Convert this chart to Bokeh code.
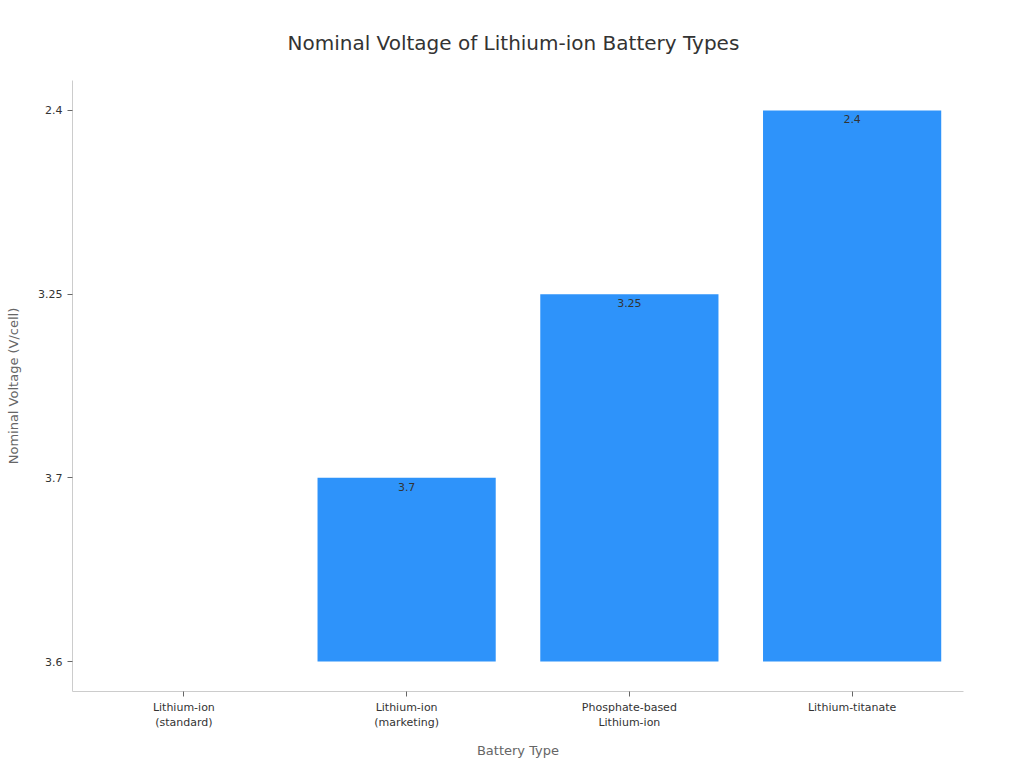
from bokeh.plotting import figure
from bokeh.models import ColumnDataSource, Range1d, FactorRange, FixedTicker
from bokeh.embed import file_html
from bokeh.resources import INLINE
from bokeh.core.properties import value

categories = ["Lithium-ion\n(standard)", "Lithium-ion\n(marketing)", "Phosphate-based\nLithium-ion", "Lithium-titanate"]
voltages = ["3.6", "3.7", "3.25", "2.4"]
y_levels = ["3.6", "3.7", "3.25", "2.4"]  # categorical y axis order, bottom to top

FONT = "DejaVu Sans"

tops = [y_levels.index(v) for v in voltages]
bottoms = [y_levels.index(y_levels[0])] * len(voltages)

src = ColumnDataSource(dict(x=categories, top=tops, bottom=bottoms, label=voltages))
lab_idx = [i for i in range(len(voltages)) if tops[i] != bottoms[i]]
lab_src = ColumnDataSource(dict(x=[categories[i] for i in lab_idx],
                                y=[tops[i] for i in lab_idx],
                                label=[voltages[i] for i in lab_idx]))

p = figure(x_range=FactorRange(*categories, range_padding=0),
           y_range=Range1d(-0.163, len(y_levels) - 1 + 0.163),
           width=1016, height=762, output_backend="svg", toolbar_location=None,
           title="Nominal Voltage of Lithium-ion Battery Types",
           min_border_left=72, min_border_right=53, min_border_top=80, min_border_bottom=71)

p.vbar(x="x", top="top", bottom="bottom", width=0.8, source=src,
       fill_color="#2E93FA", line_color=None)
p.text(x="x", y="y", text="label", source=lab_src, text_align="center",
       text_baseline="top", y_offset=5, text_font=value(FONT),
       text_font_size="11px", text_color="#333333")

p.title.align = "left"
p.title.offset = 215
p.title.text_font = FONT
p.title.text_font_size = "20px"
p.title.text_font_style = "normal"
p.title.text_color = "#333333"
p.title.standoff = 52

p.yaxis.ticker = FixedTicker(ticks=list(range(len(y_levels))))
p.yaxis.major_label_overrides = {i: v for i, v in enumerate(y_levels)}
p.yaxis.minor_tick_line_color = None

for ax in (p.xaxis[0], p.yaxis[0]):
    ax.axis_line_color = "#cccccc"
    ax.major_tick_line_color = "#666666"
    ax.major_tick_in = 0
    ax.major_tick_out = 5
    ax.major_label_text_font = FONT
    ax.major_label_text_font_size = "11px"
    ax.major_label_text_color = "#333333"
    ax.axis_label_text_font = FONT
    ax.axis_label_text_font_size = "13px"
    ax.axis_label_text_font_style = "normal"
    ax.axis_label_text_color = "#666666"

p.xaxis.axis_label = "Battery Type"
p.yaxis.axis_label = "Nominal Voltage (V/cell)"
p.xaxis.major_label_standoff = 4
p.xaxis.axis_label_standoff = 11
p.yaxis.axis_label_standoff = 14

p.xgrid.grid_line_color = None
p.ygrid.grid_line_color = None
p.outline_line_color = None

open("out.html", "w").write(file_html(p, INLINE))
